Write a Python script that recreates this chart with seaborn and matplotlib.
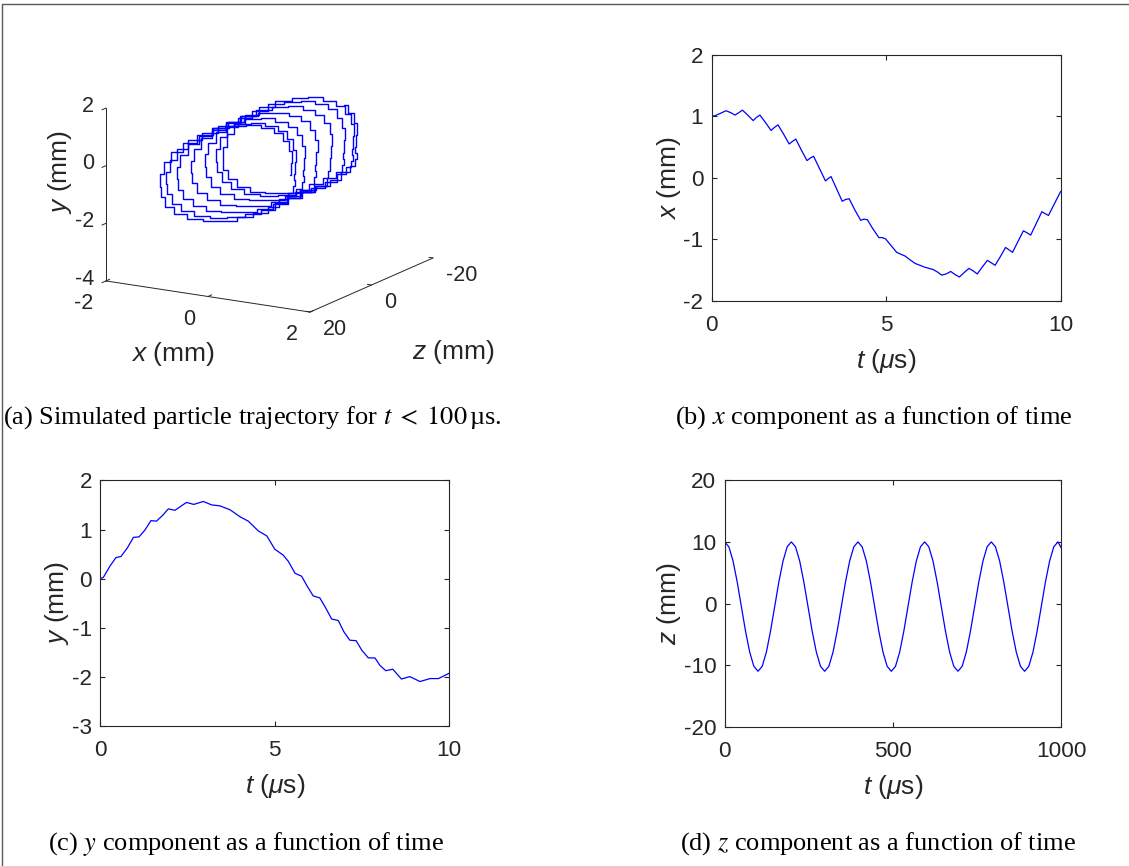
import numpy as np
import matplotlib
matplotlib.use("Agg")
import matplotlib.pyplot as plt
from matplotlib.lines import Line2D
import seaborn as sns

# ---------------- data ----------------
# (b) x component, t in microseconds
t_b = [0.00, 0.10, 0.22, 0.41, 0.54, 0.67, 0.78, 0.88, 1.03, 1.19,
       1.28, 1.38, 1.54, 1.70, 1.80, 1.90, 2.06, 2.22, 2.31, 2.41,
       2.57, 2.73, 2.82, 2.92, 3.09, 3.26, 3.34, 3.42, 3.58, 3.74,
       3.84, 3.94, 4.10, 4.27, 4.36, 4.46, 4.62, 4.79, 4.88, 4.98,
       5.14, 5.30, 5.42, 5.54, 5.68, 5.83, 6.10, 6.35, 6.47, 6.59,
       6.72, 6.85, 6.97, 7.10, 7.23, 7.37, 7.49, 7.61, 7.75, 7.90,
       8.01, 8.12, 8.27, 8.42, 8.52, 8.62, 8.77, 8.93, 9.03, 9.14,
       9.30, 9.46, 9.55, 9.65, 9.82, 10.00]
x_b = [1.00, 1.01, 1.04, 1.09, 1.06, 1.02, 1.06, 1.10, 1.02, 0.93,
       0.98, 1.02, 0.90, 0.77, 0.82, 0.86, 0.71, 0.55, 0.59, 0.63,
       0.45, 0.28, 0.32, 0.35, 0.15, -0.05, -0.01, 0.02, -0.18, -0.38,
       -0.35, -0.34, -0.52, -0.69, -0.67, -0.68, -0.83, -0.97, -0.97, -0.99,
       -1.10, -1.21, -1.24, -1.27, -1.33, -1.39, -1.45, -1.49, -1.53, -1.58,
       -1.56, -1.52, -1.57, -1.61, -1.54, -1.47, -1.51, -1.56, -1.45, -1.34,
       -1.38, -1.42, -1.28, -1.13, -1.17, -1.21, -1.04, -0.86, -0.89, -0.93,
       -0.74, -0.55, -0.58, -0.61, -0.42, -0.22]

# (c) y component
t_c = [0.00, 0.09, 0.28, 0.45, 0.59, 0.77, 0.95, 1.11, 1.28, 1.45,
       1.61, 1.79, 1.95, 2.14, 2.28, 2.47, 2.68, 2.95, 3.19, 3.43,
       3.72, 4.00, 4.24, 4.53, 4.77, 5.00, 5.24, 5.39, 5.58, 5.77,
       5.91, 6.10, 6.29, 6.44, 6.63, 6.82, 6.98, 7.15, 7.33, 7.49,
       7.68, 7.87, 8.01, 8.18, 8.38, 8.63, 8.87, 9.16, 9.45, 9.69, 10.00]
y_c = [0.00, 0.03, 0.26, 0.43, 0.45, 0.62, 0.84, 0.85, 0.99, 1.18,
       1.17, 1.29, 1.42, 1.39, 1.46, 1.55, 1.51, 1.57, 1.50, 1.48,
       1.40, 1.26, 1.17, 0.97, 0.87, 0.60, 0.48, 0.35, 0.11, 0.05,
       -0.13, -0.35, -0.39, -0.57, -0.82, -0.85, -1.08, -1.25, -1.26, -1.45,
       -1.61, -1.61, -1.76, -1.87, -1.84, -2.04, -1.99, -2.09, -2.03, -2.03, -1.92]

# (d) z component
t_d = [0, 12.4, 24.8, 37.1, 49.5, 61.9, 74.3, 86.6, 99, 111.4, 123.8, 136.1, 148.5, 160.9, 173.3, 185.6,
       198, 210.4, 222.8, 235.1, 247.5, 259.9, 272.3, 284.6, 297, 309.4, 321.8, 334.1, 346.5, 358.9, 371.3, 383.6,
       396, 408.4, 420.8, 433.1, 445.5, 457.9, 470.3, 482.6, 495, 507.4, 519.8, 532.1, 544.5, 556.9, 569.3, 581.6,
       594, 606.4, 618.8, 631.1, 643.5, 655.9, 668.3, 680.6, 693, 705.4, 717.8, 730.1, 742.5, 754.9, 767.3, 779.6,
       792, 804.4, 816.8, 829.1, 841.5, 853.9, 866.3, 878.6, 891, 903.4, 915.8, 928.1, 940.5, 952.9, 965.3, 977.6,
       990, 1000]
z_d = [10.0, 9.2, 6.9, 3.5, -0.5, -4.5, -7.9, -10.2, -11.0, -10.2, -7.9, -4.5, -0.5, 3.5, 6.9, 9.2,
       10.0, 9.2, 6.9, 3.5, -0.5, -4.5, -7.9, -10.2, -11.0, -10.2, -7.9, -4.5, -0.5, 3.5, 6.9, 9.2,
       10.0, 9.2, 6.9, 3.5, -0.5, -4.5, -7.9, -10.2, -11.0, -10.2, -7.9, -4.5, -0.5, 3.5, 6.9, 9.2,
       10.0, 9.2, 6.9, 3.5, -0.5, -4.5, -7.9, -10.2, -11.0, -10.2, -7.9, -4.5, -0.5, 3.5, 6.9, 9.2,
       10.0, 9.2, 6.9, 3.5, -0.5, -4.5, -7.9, -10.2, -11.0, -10.2, -7.9, -4.5, -0.5, 3.5, 6.9, 9.2,
       10.0, 9.0]

# (a) 3-D trajectory for t < 100 us, one sample every 0.5 us (201 samples)
x3 = [1.00, 1.06, 1.03, 0.95, 0.80, 0.57, 0.30, -0.02, -0.36, -0.68, -0.98, -1.24, -1.43, -1.54,
      -1.58, -1.52, -1.40, -1.17, -0.90, -0.57, -0.22, 0.10, 0.40, 0.65, 0.85, 0.98, 1.05, 1.04,
      1.00, 1.06, 1.03, 0.95, 0.80, 0.57, 0.30, -0.02, -0.36, -0.68, -0.98, -1.24, -1.43, -1.54,
      -1.58, -1.52, -1.40, -1.17, -0.90, -0.57, -0.22, 0.10, 0.40, 0.65, 0.85, 0.98, 1.05, 1.04,
      1.00, 1.06, 1.03, 0.95, 0.80, 0.57, 0.30, -0.02, -0.36, -0.68, -0.98, -1.24, -1.43, -1.54,
      -1.58, -1.52, -1.40, -1.17, -0.90, -0.57, -0.22, 0.10, 0.40, 0.65, 0.85, 0.98, 1.05, 1.04,
      1.00, 1.06, 1.03, 0.95, 0.80, 0.57, 0.30, -0.02, -0.36, -0.68, -0.98, -1.24, -1.43, -1.54,
      -1.58, -1.52, -1.40, -1.17, -0.90, -0.57, -0.22, 0.10, 0.40, 0.65, 0.85, 0.98, 1.05, 1.04,
      1.00, 1.06, 1.03, 0.95, 0.80, 0.57, 0.30, -0.02, -0.36, -0.68, -0.98, -1.24, -1.43, -1.54,
      -1.58, -1.52, -1.40, -1.17, -0.90, -0.57, -0.22, 0.10, 0.40, 0.65, 0.85, 0.98, 1.05, 1.04,
      1.00, 1.06, 1.03, 0.95, 0.80, 0.57, 0.30, -0.02, -0.36, -0.68, -0.98, -1.24, -1.43, -1.54,
      -1.58, -1.52, -1.40, -1.17, -0.90, -0.57, -0.22, 0.10, 0.40, 0.65, 0.85, 0.98, 1.05, 1.04,
      1.00, 1.06, 1.03, 0.95, 0.80, 0.57, 0.30, -0.02, -0.36, -0.68, -0.98, -1.24, -1.43, -1.54,
      -1.58, -1.52, -1.40, -1.17, -0.90, -0.57, -0.22, 0.10, 0.40, 0.65, 0.85, 0.98, 1.05, 1.04,
      1.00, 1.06, 1.03, 0.95, 0.80]
y3 = [0.00, 0.45, 0.85, 1.18, 1.42, 1.53, 1.57, 1.45, 1.26, 0.95, 0.60, 0.22, -0.20, -0.65,
      -1.10, -1.45, -1.76, -1.95, -2.05, -2.02, -1.92, -1.72, -1.50, -1.22, -0.90, -0.65, -0.40, -0.20,
      0.00, 0.45, 0.85, 1.18, 1.42, 1.53, 1.57, 1.45, 1.26, 0.95, 0.60, 0.22, -0.20, -0.65,
      -1.10, -1.45, -1.76, -1.95, -2.05, -2.02, -1.92, -1.72, -1.50, -1.22, -0.90, -0.65, -0.40, -0.20,
      0.00, 0.45, 0.85, 1.18, 1.42, 1.53, 1.57, 1.45, 1.26, 0.95, 0.60, 0.22, -0.20, -0.65,
      -1.10, -1.45, -1.76, -1.95, -2.05, -2.02, -1.92, -1.72, -1.50, -1.22, -0.90, -0.65, -0.40, -0.20,
      0.00, 0.45, 0.85, 1.18, 1.42, 1.53, 1.57, 1.45, 1.26, 0.95, 0.60, 0.22, -0.20, -0.65,
      -1.10, -1.45, -1.76, -1.95, -2.05, -2.02, -1.92, -1.72, -1.50, -1.22, -0.90, -0.65, -0.40, -0.20,
      0.00, 0.45, 0.85, 1.18, 1.42, 1.53, 1.57, 1.45, 1.26, 0.95, 0.60, 0.22, -0.20, -0.65,
      -1.10, -1.45, -1.76, -1.95, -2.05, -2.02, -1.92, -1.72, -1.50, -1.22, -0.90, -0.65, -0.40, -0.20,
      0.00, 0.45, 0.85, 1.18, 1.42, 1.53, 1.57, 1.45, 1.26, 0.95, 0.60, 0.22, -0.20, -0.65,
      -1.10, -1.45, -1.76, -1.95, -2.05, -2.02, -1.92, -1.72, -1.50, -1.22, -0.90, -0.65, -0.40, -0.20,
      0.00, 0.45, 0.85, 1.18, 1.42, 1.53, 1.57, 1.45, 1.26, 0.95, 0.60, 0.22, -0.20, -0.65,
      -1.10, -1.45, -1.76, -1.95, -2.05, -2.02, -1.92, -1.72, -1.50, -1.22, -0.90, -0.65, -0.40, -0.20,
      0.00, 0.45, 0.85, 1.18, 1.42]
z3 = [10.00, 10.00, 9.99, 9.99, 9.98, 9.97, 9.95, 9.93, 9.91, 9.89, 9.87, 9.84, 9.81, 9.78, 9.74, 9.70, 9.66, 9.62, 9.57, 9.52,
      9.47, 9.42, 9.36, 9.30, 9.24, 9.18, 9.11, 9.04, 8.97, 8.90, 8.82, 8.74, 8.66, 8.58, 8.49, 8.41, 8.32, 8.23, 8.13, 8.03,
      7.93, 7.83, 7.73, 7.63, 7.52, 7.41, 7.30, 7.19, 7.07, 6.95, 6.83, 6.71, 6.59, 6.47, 6.34, 6.21, 6.08, 5.95, 5.82, 5.69,
      5.55, 5.41, 5.27, 5.13, 4.99, 4.85, 4.70, 4.56, 4.41, 4.26, 4.11, 3.96, 3.80, 3.65, 3.50, 3.35, 3.19, 3.03, 2.87, 2.71,
      2.55, 2.39, 2.23, 2.07, 1.91, 1.75, 1.58, 1.42, 1.25, 1.09, 0.92, 0.76, 0.59, 0.42, 0.25, 0.09, -0.08, -0.25, -0.42, -0.59,
      -0.75, -0.92, -1.09, -1.26, -1.42, -1.59, -1.75, -1.92, -2.08, -2.25, -2.42, -2.58, -2.74, -2.91, -3.07, -3.23, -3.39, -3.55, -3.71, -3.87,
      -4.03, -4.19, -4.34, -4.50, -4.65, -4.81, -4.96, -5.11, -5.26, -5.41, -5.55, -5.70, -5.85, -5.99, -6.13, -6.27, -6.41, -6.55, -6.69, -6.82,
      -6.95, -7.08, -7.21, -7.34, -7.47, -7.59, -7.71, -7.84, -7.96, -8.07, -8.18, -8.30, -8.41, -8.52, -8.63, -8.73, -8.83, -8.93, -9.03, -9.13,
      -9.22, -9.32, -9.41, -9.50, -9.58, -9.67, -9.75, -9.83, -9.90, -9.97, -10.04, -10.11, -10.18, -10.24, -10.30, -10.36, -10.42, -10.47, -10.52, -10.57,
      -10.62, -10.66, -10.70, -10.74, -10.78, -10.81, -10.84, -10.87, -10.89, -10.91, -10.93, -10.95, -10.97, -10.98, -10.99, -11.00, -11.00, -11.00, -11.00, -11.00,
      -10.99]

xticks_b = [0, 5, 10];   yticks_b = [-2, -1, 0, 1, 2]
xticks_c = [0, 5, 10];   yticks_c = [-3, -2, -1, 0, 1, 2]
xticks_d = [0, 500, 1000]; yticks_d = [-20, -10, 0, 10, 20]
ticks3_x = [-2, 0, 2]; ticks3_y = [-4, -2, 0, 2]; ticks3_z = [20, 0, -20]

captions = [r"(a) Simulated particle trajectory for $t\;<\;100\,$µs.",
            r"(b) $x$ component as a function of time",
            r"(c) $y$ component as a function of time",
            r"(d) $z$ component as a function of time"]

# ---------------- style ----------------
sns.set_theme(style="white")
plt.rcParams["font.family"] = ["Liberation Sans", "DejaVu Sans"]
plt.rcParams["mathtext.fontset"] = "custom"
plt.rcParams["mathtext.rm"] = "Liberation Sans"
plt.rcParams["mathtext.it"] = "Liberation Sans:italic"
plt.rcParams["mathtext.bf"] = "Liberation Sans:bold"
plt.rcParams["axes.unicode_minus"] = False

W, H = 1129, 866
fig = plt.figure(figsize=(W / 100, H / 100), dpi=100)
fig.patch.set_facecolor("white")

INK = "#262626"
BLUE = "#0000ff"
TICK_FS = 16.2
LAB_FS = 19
TICK3_FS = 15.5


def rect(l, t, r, b):
    return [l / W, 1 - b / H, (r - l) / W, (b - t) / H]


def panel(rc, t, v, xlim, ylim, xticks, yticks, ylab):
    ax = fig.add_axes(rc)
    sns.lineplot(x=t, y=v, ax=ax, color=BLUE, lw=0.9, estimator=None, sort=False)
    ax.set_xlim(xlim)
    ax.set_ylim(ylim)
    ax.set_xticks(xticks)
    ax.set_yticks(yticks)
    ax.set_xticklabels([str(k) for k in xticks])
    ax.set_yticklabels([str(k) for k in yticks])
    ax.set_facecolor("white")
    ax.grid(False)
    for s in ax.spines.values():
        s.set_visible(True)
        s.set_color(INK)
        s.set_linewidth(0.8)
    ax.tick_params(axis="both", which="both", direction="in", length=3.5, width=0.8,
                   color=INK, labelcolor=INK, labelsize=TICK_FS,
                   top=True, right=True, bottom=True, left=True)
    ax.tick_params(axis="x", pad=10)
    ax.tick_params(axis="y", pad=6)
    ax.set_xlabel(r"$t$ ($\mu$s)", fontsize=LAB_FS, color=INK, labelpad=8)
    ax.set_ylabel(ylab, fontsize=LAB_FS, color=INK, labelpad=0.5)
    return ax


panel(rect(711.7, 54.7, 1060.7, 301.0), t_b, x_b, (0, 10), (-2, 2), xticks_b, yticks_b, r"$x$ (mm)")
panel(rect(100.3, 480.3, 449.3, 726.3), t_c, y_c, (0, 10), (-3, 2), xticks_c, yticks_c, r"$y$ (mm)")
panel(rect(724.7, 480.3, 1061.3, 726.7), t_d, z_d, (0, 1000), (-20, 20), xticks_d, yticks_d, r"$z$ (mm)")

# ---------------- 3-D panel ----------------
s0 = 430
ax3 = fig.add_axes([(270 - s0 / 2) / W, 1 - (183 + s0 / 2) / H, s0 / W, s0 / H], projection="3d")
ax3.plot(x3, z3, y3, color=BLUE, lw=1.0, drawstyle="steps-mid")
ax3.set_proj_type("ortho")
ax3.set_box_aspect((1, 1.024, 0.756))
ax3.view_init(elev=15, azim=-59.5)
ax3.set_xlim(-2, 2)
ax3.set_ylim(20, -20)
ax3.set_zlim(-4, 2)
ax3.set_axis_off()

# axis lines (x at front, z at right, vertical y at left)
ax3.plot([-2, 2], [20, 20], [-4, -4], color=INK, lw=0.7)
ax3.plot([2, 2], [20, -20], [-4, -4], color=INK, lw=0.7)
ax3.plot([-2, -2], [20, 20], [-4, 2], color=INK, lw=0.7)
for xv in ticks3_x:
    ax3.plot([xv, xv], [20, 18.8], [-4, -4], color=INK, lw=0.7)
    ax3.text(xv, 24, -4.6, str(xv), ha="right", va="center", fontsize=TICK3_FS, color=INK)
for zv in ticks3_z:
    ax3.plot([2, 1.92], [zv, zv], [-4, -4], color=INK, lw=0.7)
    ax3.text(2.25, zv, -4.55, str(zv), ha="left", va="center", fontsize=TICK3_FS, color=INK)
for yv in ticks3_y:
    ax3.plot([-2, -2], [20, 21.3], [yv, yv], color=INK, lw=0.7)
    ax3.text(-2.24, 20, yv, str(yv), ha="right", va="center", fontsize=TICK3_FS, color=INK)
ax3.text(-0.5, 23, -6.0, r"$x$ (mm)", ha="center", va="center", fontsize=LAB_FS, color=INK)
ax3.text(3.6, 0, -5.9, r"$z$ (mm)", ha="center", va="center", fontsize=LAB_FS, color=INK)

# fit the projected box onto the reference corner positions
fig.canvas.draw()


def to_px(p):
    M = ax3.get_proj()
    v = M @ np.array([p[0], p[1], p[2], 1.0])
    return ax3.transData.transform((v[0] / v[3], v[1] / v[3]))


ref_pts = [(-2, 20, -4), (2, 20, -4), (2, -20, -4), (-2, 20, 2)]
ref_px = np.array([(106, H - 281), (310, H - 312), (433, H - 258), (106, H - 108)], float)
P = np.array([to_px(p) for p in ref_pts])
pm, qm = P.mean(0), ref_px.mean(0)
sc = ((P - pm) * (ref_px - qm)).sum() / ((P - pm) ** 2).sum()
tr = qm - sc * pm
bb = ax3.get_position()
cx, cy = (bb.x0 + bb.x1) / 2 * W, (bb.y0 + bb.y1) / 2 * H
wpx, hpx = bb.width * W * sc, bb.height * H * sc
ncx, ncy = sc * cx + tr[0], sc * cy + tr[1]
ax3.set_position([(ncx - wpx / 2) / W, (ncy - hpx / 2) / H, wpx / W, hpx / H])

# vertical-axis label of the 3-D panel (rotated)
fig.text(60 / W, 1 - 172 / H, r"$y$ (mm)", rotation=90, ha="center", va="center",
         fontsize=LAB_FS, color=INK)

# ---------------- captions ----------------
cap_pos = [(252, 418), (874, 418), (246, 844), (878, 844)]
for txt, (cxp, cyp) in zip(captions, cap_pos):
    fig.text(cxp / W, 1 - cyp / H, txt, ha="center", va="center",
             fontfamily="Liberation Serif", fontsize=19, math_fontfamily="stix", color="black")

# ---------------- frame ----------------
fig.add_artist(Line2D([2 / W, 1.0], [1 - 4 / H, 1 - 4 / H], transform=fig.transFigure,
                      color="#5a5a5a", lw=1.0))
fig.add_artist(Line2D([2 / W, 2 / W], [0, 1 - 4 / H], transform=fig.transFigure,
                      color="#5a5a5a", lw=1.0))

fig.savefig("out.png", dpi=100, facecolor="white")
